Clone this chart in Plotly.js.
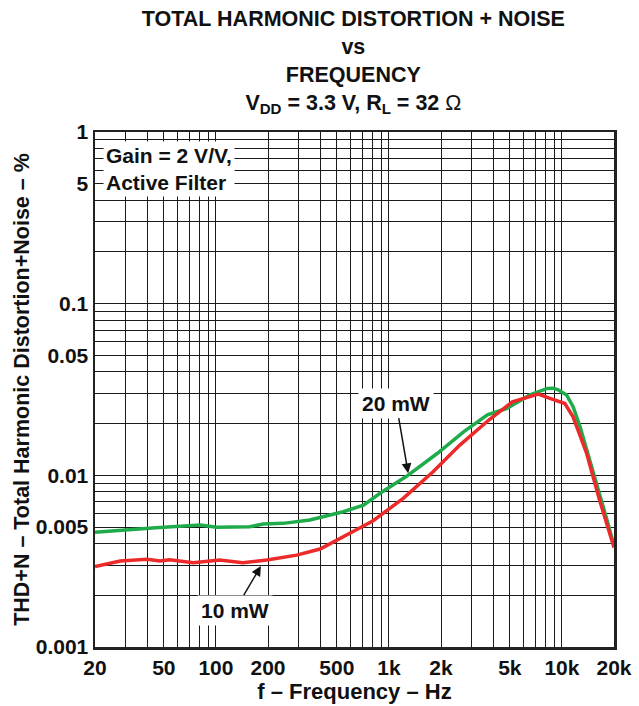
<!DOCTYPE html>
<html>
<head>
<meta charset="utf-8">
<script src="https://cdn.plot.ly/plotly-3.0.1.min.js"></script>
<style>html,body{margin:0;padding:0;background:#fff;}#chart{width:639px;height:706px;}</style>
</head>
<body>
<div id="chart"></div>
<script>
// 20 mW series (green)
var freq20mW = [20, 29, 45, 81, 101, 157, 188, 245, 349, 544, 713, 889, 1270, 1900, 2700, 3710, 4780, 6540, 8240, 8920, 9500, 10640, 11600, 12730, 15140, 18000, 20000];
var thd20mW  = [0.00466, 0.00480, 0.00495, 0.00514, 0.00498, 0.00502, 0.00521, 0.00525, 0.00549, 0.00614, 0.0067, 0.00786, 0.0099, 0.0134, 0.0179, 0.0225, 0.0245, 0.0294, 0.0321, 0.0322, 0.0315, 0.0294, 0.0251, 0.0192, 0.0107, 0.00574, 0.0039];
// 10 mW series (red)
var freq10mW = [20, 28, 40, 47.5, 54, 74, 105, 143, 197, 293, 400, 544, 811, 1210, 1800, 2570, 3780, 5170, 7300, 8520, 10400, 11600, 13900, 16500, 19500, 20000];
var thd10mW  = [0.00294, 0.00317, 0.00324, 0.00317, 0.00322, 0.0031, 0.00321, 0.0031, 0.00321, 0.00343, 0.00372, 0.00439, 0.00544, 0.00735, 0.0105, 0.0150, 0.0210, 0.0268, 0.0297, 0.0281, 0.0262, 0.0219, 0.0134, 0.00718, 0.00402, 0.0038];

// axis ticks / grid values and labels
var xGrid = [20,30,40,50,60,70,80,90,100,200,300,400,500,600,700,800,900,1000,2000,3000,4000,5000,6000,7000,8000,9000,10000,20000];
var xLabels = {20:'20',50:'50',100:'100',200:'200',500:'500',1000:'1k',2000:'2k',5000:'5k',10000:'10k',20000:'20k'};
var yGrid = [0.001,0.002,0.003,0.004,0.005,0.006,0.007,0.008,0.009,0.01,0.02,0.03,0.04,0.05,0.06,0.07,0.08,0.09,0.1,0.2,0.3,0.4,0.5,0.6,0.7,0.8,0.9,1];
var yLabels = {0.001:'0.001',0.005:'0.005',0.01:'0.01',0.05:'0.05',0.1:'0.1',0.5:'5',1:'1'};

var FONT = 'Liberation Sans, Arial, sans-serif';

var traces = [
  {x: freq20mW, y: thd20mW, mode: 'lines', line: {color: '#1faa4b', width: 3.5}, name: '20 mW', hoverinfo: 'skip'},
  {x: freq10mW, y: thd10mW, mode: 'lines', line: {color: '#ec2a2a', width: 3.5}, name: '10 mW', hoverinfo: 'skip'}
];

var layout = {
  width: 639, height: 706,
  margin: {l: 95, r: 25, t: 132, b: 59},
  paper_bgcolor: '#fff', plot_bgcolor: '#fff',
  showlegend: false,
  font: {family: FONT, color: '#111', size: 21},
  title: {
    text: '<b>TOTAL HARMONIC DISTORTION + NOISE<br>vs<br>FREQUENCY<br>V<sub>DD</sub> = 3.3 V, R<sub>L</sub> = 32 </b>Ω',
    font: {family: FONT, size: 21.5, color: '#111'},
    x: 0.553, xanchor: 'center', y: 0.963, yanchor: 'top'
  },
  xaxis: {
    type: 'log', range: [Math.log10(20), Math.log10(20000)],
    tickvals: xGrid, ticktext: xGrid.map(function(v){return xLabels[v] ? '<b>'+xLabels[v]+'</b>' : '';}),
    tickfont: {family: FONT, size: 21, color: '#111'},
    ticks: '', showgrid: true, gridcolor: '#1a1a1a', gridwidth: 1,
    showline: true, linecolor: '#222', linewidth: 2.5, mirror: true, zeroline: false,
    title: {text: '<b>f – Frequency – Hz</b>', font: {family: FONT, size: 22, color: '#111'}, standoff: 2}
  },
  yaxis: {
    type: 'log', range: [-3, 0],
    tickvals: yGrid, ticktext: yGrid.map(function(v){return yLabels[v] ? '<b>'+yLabels[v]+'</b>' : '';}),
    tickfont: {family: FONT, size: 21, color: '#111'},
    ticks: '', showgrid: true, gridcolor: '#1a1a1a', gridwidth: 1,
    showline: true, linecolor: '#222', linewidth: 2.5, mirror: true, zeroline: false,
    title: {text: '<b>THD+N – Total Harmonic Distortion+Noise – %</b>', font: {family: FONT, size: 21.5, color: '#111'}, standoff: 0}
  },
  annotations: [
    {xref: 'paper', yref: 'paper', x: 0.015, y: 0.982, xanchor: 'left', yanchor: 'top', align: 'left',
     text: '<b>Gain = 2 V/V,<br>Active Filter</b>', showarrow: false, bgcolor: '#fff', borderpad: 2,
     font: {family: FONT, size: 21, color: '#111'}},
    {x: Math.log10(1292), y: Math.log10(0.0103), xref: 'x', yref: 'y', text: '<b>20 mW</b>',
     showarrow: true, arrowhead: 2, arrowsize: 1.3, arrowwidth: 1.5, arrowcolor: '#111',
     ax: -12, ay: -70, bgcolor: '#fff', borderpad: 3, font: {family: FONT, size: 21, color: '#111'}},
    {x: Math.log10(182), y: Math.log10(0.00296), xref: 'x', yref: 'y', text: '<b>10 mW</b>',
     showarrow: true, arrowhead: 2, arrowsize: 1.3, arrowwidth: 1.5, arrowcolor: '#111',
     ax: -26, ay: 44, bgcolor: '#fff', borderpad: 3, font: {family: FONT, size: 21, color: '#111'}}
  ]
};

Plotly.newPlot('chart', traces, layout, {staticPlot: true, displayModeBar: false});
</script>
</body>
</html>
